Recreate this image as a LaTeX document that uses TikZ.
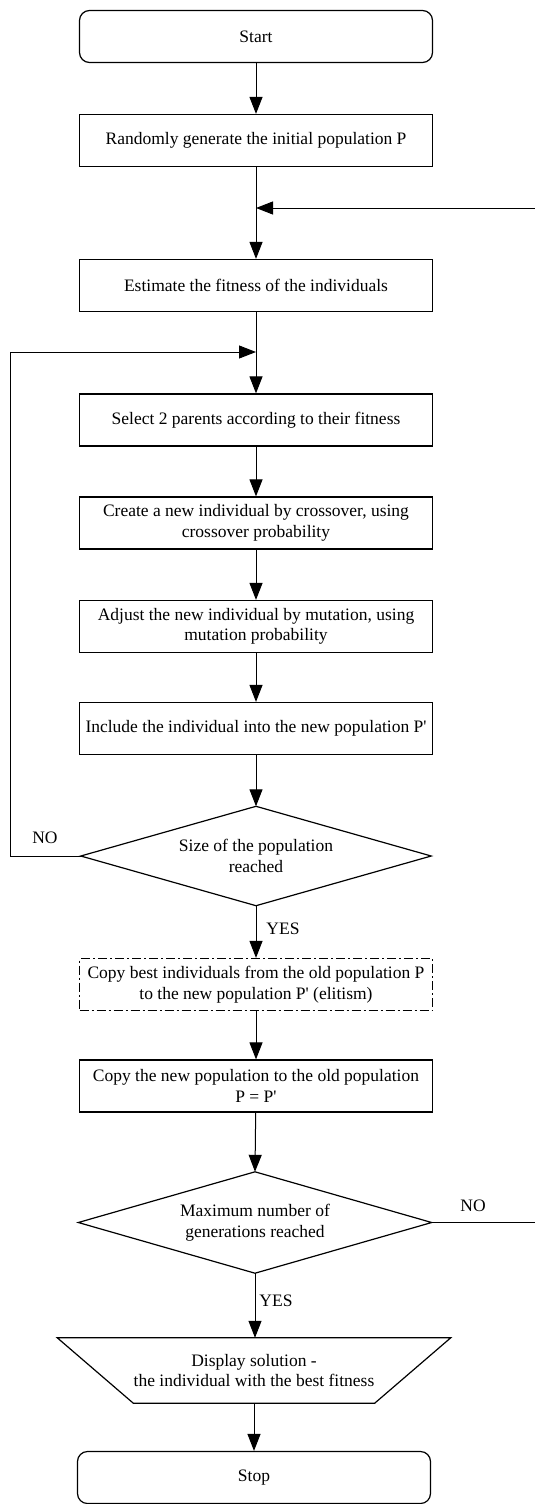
\documentclass[tikz,border=0pt]{standalone}
\usepackage{fontspec}
\setmainfont{Liberation Serif}
\usetikzlibrary{arrows.meta}
\newcommand{\pq}{\textquotesingle}
\begin{document}
\begin{tikzpicture}[x=1pt,y=-1pt,
  every node/.style={font=\fontsize{17.5}{20.5}\selectfont, align=center},
  procbox/.style={draw, line width=1.2pt, minimum width=353pt, minimum height=52pt, inner sep=0pt},
  termbox/.style={procbox, rounded corners=10pt},
  elitbox/.style={procbox, dash pattern=on 9pt off 3pt on 2pt off 3pt},
  hidden/.style={draw=none, inner sep=0pt},
  arr/.style={line width=1pt, -{Triangle[width=13pt,length=17pt]}},
  ln/.style={line width=1pt},
  shp/.style={line width=1.2pt}
]
\useasboundingbox (0,0) rectangle (535,1504);

\node[termbox] (start) at (256,36.5) {Start};
\node[procbox] (rand) at (256,140.5) {Randomly generate the initial population P};
\coordinate (j1) at (256,208);
\node[procbox] (est) at (256,285.5) {Estimate the fitness of the individuals};
\coordinate (j2) at (256,352);
\node[procbox] (sel) at (256,420) {Select 2 parents according to their fitness};
\node[procbox] (cross) at (256,523) {Create a new individual by crossover, using\\crossover probability};
\node[procbox] (mut) at (256,626.5) {Adjust the new individual by mutation, using\\mutation probability};
\node[procbox] (incl) at (256,728.5) {Include the individual into the new population P\pq};

\node[hidden, minimum width=350pt, minimum height=99pt] (d1) at (256,856) {Size of the population\\reached};
\draw[shp] (d1.north) -- (d1.east) -- (d1.south) -- (d1.west) -- cycle;

\node[elitbox] (elit) at (256,984.5) {Copy best individuals from the old population P\\to the new population P\pq{} (elitism)};
\node[procbox] (copy) at (256,1086) {Copy the new population to the old population\\P = P\pq};

\node[hidden, minimum width=353pt, minimum height=101pt] (d2) at (255,1222.5) {Maximum number of\\generations reached};
\draw[shp] (d2.north) -- (d2.east) -- (d2.south) -- (d2.west) -- cycle;

\node[hidden, minimum width=393pt, minimum height=65pt] (disp) at (254,1370.5) {Display solution -\\the individual with the best fitness};
\draw[shp] (disp.north west) -- (disp.north east) -- ([xshift=-76pt]disp.south east) -- ([xshift=76pt]disp.south west) -- cycle;

\node[termbox] (stop) at (254,1477.5) {Stop};

% main flow
\draw[arr] (start) -- (rand);
\draw[arr] (rand) -- (est);
\draw[arr] (est) -- (sel);
\draw[arr] (sel) -- (cross);
\draw[arr] (cross) -- (mut);
\draw[arr] (mut) -- (incl);
\draw[arr] (incl) -- (d1.north);
\draw[arr] (d1.south) -- (elit);
\draw[arr] (elit) -- (copy);
\draw[arr] (copy) -- (d2.north);
\draw[arr] (d2.south) -- (disp.north -| d2.south);
\draw[arr] (disp.south -| stop.north) -- (stop);

% loops
\coordinate (l1) at (10,856);
\coordinate (l2) at (10,352);
\draw[arr] (d1.west) -- (l1) -- (l2) -- (j2);
\coordinate (r1) at (538,1222.5);
\coordinate (r2) at (538,208);
\draw[arr] (d2.east) -- (r1) -- (r2) -- (j1);

% labels
\node (no1) at (45,838) {NO};
\node (yes1) at (283,929) {YES};
\node (no2) at (473,1206) {NO};
\node (yes2) at (276,1301) {YES};
\end{tikzpicture}
\end{document}
